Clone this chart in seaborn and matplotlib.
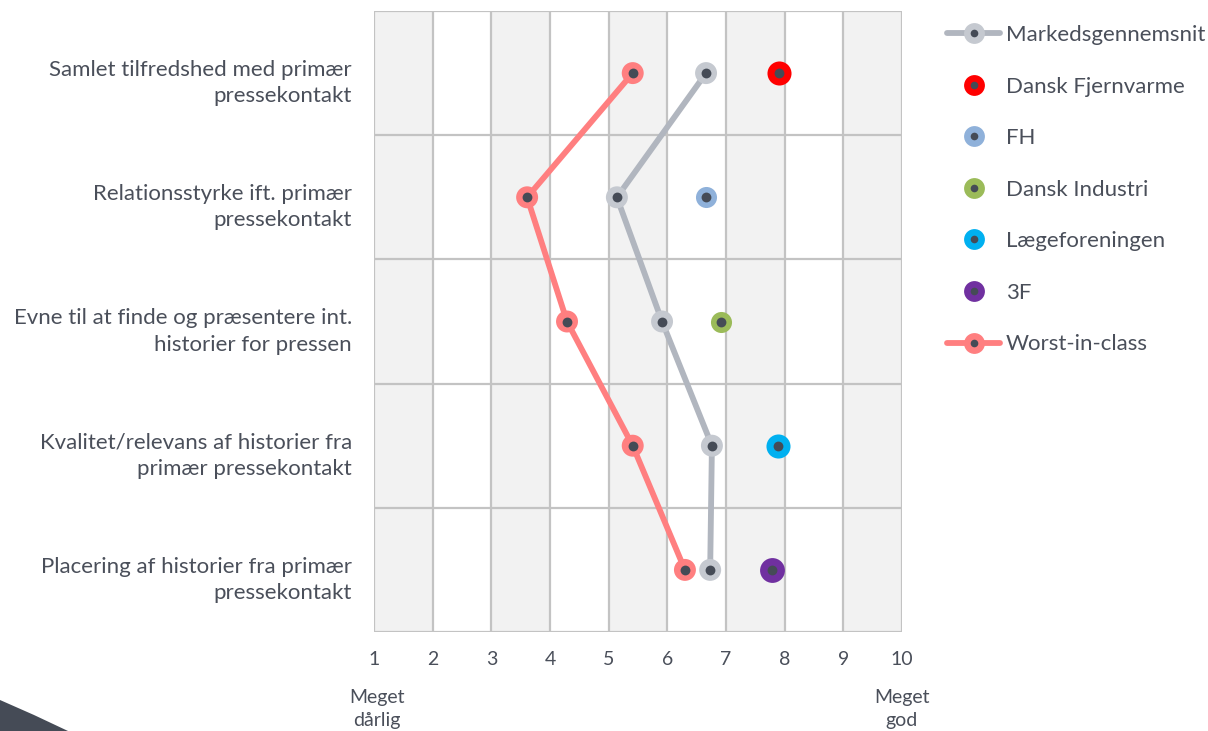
import matplotlib
matplotlib.use("Agg")
import matplotlib.pyplot as plt
import matplotlib.transforms as mtransforms
import seaborn as sns
import pandas as pd
from matplotlib.lines import Line2D
from matplotlib.patches import Polygon

# ---------------- data ----------------
categories = [
    "Samlet tilfredshed med primær\npressekontakt",
    "Relationsstyrke ift. primær\npressekontakt",
    "Evne til at finde og præsentere int.\nhistorier for pressen",
    "Kvalitet/relevans af historier fra\nprimær pressekontakt",
    "Placering af historier fra primær\npressekontakt",
]
markedsgennemsnit = [6.66, 5.14, 5.91, 6.76, 6.73]
worst_in_class = [5.41, 3.61, 4.29, 5.41, 6.30]
org_names = ["Dansk Fjernvarme", "FH", "Dansk Industri", "Lægeforeningen", "3F"]
org_scores = [7.90, 6.66, 6.91, 7.89, 7.78]
org_rows = [0, 1, 2, 3, 4]
x_ticks = list(range(1, 11))
x_low_label = "Meget\ndårlig"
x_high_label = "Meget\ngod"

# ---------------- styles ----------------
line_colors = {"Markedsgennemsnit": "#b1b6bf", "Worst-in-class": "#ff7f80"}
marker_colors = {"Markedsgennemsnit": "#c5c9d0", "Worst-in-class": "#ff7f80"}
org_colors = {"Dansk Fjernvarme": "#ff0000", "FH": "#8fb1da", "Dansk Industri": "#9bbb59",
              "Lægeforeningen": "#00b0f0", "3F": "#7030a0"}
dot_color = "#454b56"
text_color = "#4a4f5a"
grid_color = "#c3c3c3"

sns.set_theme(style="white")
plt.rcParams["font.family"] = ["Lato", "DejaVu Sans"]

W, H = 1208, 731
fig = plt.figure(figsize=(W / 100, H / 100), dpi=100)
ax = fig.add_axes([374 / W, 1 - 632 / H, (902 - 374) / W, (632 - 11) / H])
ax.set_facecolor("white")

ax.set_xlim(1, 10)
ax.set_ylim(len(categories) - 0.5, -0.5)

# alternating column shading
for i, v in enumerate(x_ticks[:-1]):
    if i % 2 == 0:
        ax.axvspan(v, v + 1, facecolor="#f2f2f2", edgecolor="none", zorder=0)

rows = list(range(len(categories)))
df_lines = pd.DataFrame({
    "score": markedsgennemsnit + worst_in_class,
    "pos": rows + rows,
    "serie": ["Markedsgennemsnit"] * len(rows) + ["Worst-in-class"] * len(rows),
})
df_orgs = pd.DataFrame({"score": org_scores, "pos": org_rows, "serie": org_names})

sns.lineplot(data=df_lines, x="score", y="pos", hue="serie", palette=line_colors,
             orient="y", sort=False, estimator=None, linewidth=4.2, legend=False,
             ax=ax, zorder=3)
sns.scatterplot(data=df_lines, x="score", y="pos", hue="serie", palette=marker_colors,
                s=250, linewidth=0, legend=False, ax=ax, zorder=4)
org_sizes = {"Dansk Fjernvarme": 300, "FH": 230, "Dansk Industri": 230,
             "Lægeforeningen": 300, "3F": 320}
for name in org_names:
    sub = df_orgs[df_orgs["serie"] == name]
    sns.scatterplot(data=sub, x="score", y="pos", color=org_colors[name],
                    s=org_sizes[name], linewidth=0, legend=False, ax=ax, zorder=4)
df_all = pd.concat([df_lines, df_orgs])
sns.scatterplot(data=df_all, x="score", y="pos", color=dot_color, s=50,
                linewidth=0, legend=False, ax=ax, zorder=5)

ax.set_xlim(1, 10)
ax.set_ylim(len(categories) - 0.5, -0.5)
ax.set_xticks(x_ticks)
ax.set_xticklabels([str(t) for t in x_ticks], fontsize=14, color=text_color)
ax.set_yticks(rows)
ax.set_yticklabels(categories, fontsize=16, color=text_color, linespacing=1.38,
                   ha="right")
ax.tick_params(axis="y", pad=16, length=0)
ax.tick_params(axis="x", pad=14, length=0)
ax.set_xlabel("")
ax.set_ylabel("")
for v in x_ticks:
    ax.axvline(v, color=grid_color, lw=1.6, zorder=1)
for r in range(len(categories) + 1):
    ax.axhline(r - 0.5, color=grid_color, lw=1.6, zorder=1)
for s in ax.spines.values():
    s.set_visible(False)
shift = mtransforms.ScaledTranslation(0, -5 / 100, fig.dpi_scale_trans)
for lbl in ax.get_yticklabels():
    lbl.set_transform(lbl.get_transform() + shift)

fig.text(377 / W, 1 - 709 / H, x_low_label, ha="center", va="center",
         fontsize=14, color=text_color, linespacing=1.38)
fig.text(902 / W, 1 - 709 / H, x_high_label, ha="center", va="center",
         fontsize=14, color=text_color, linespacing=1.38)

# legend
handles, labels = [], []
def entry(color, mcolor, with_line, size):
    big = Line2D([0], [0], color=color if with_line else "none", lw=4.2,
                 marker="o", markersize=size, markerfacecolor=mcolor,
                 markeredgewidth=0)
    small = Line2D([0], [0], color="none", marker="o", markersize=5.5,
                   markerfacecolor=dot_color, markeredgewidth=0)
    return (big, small)

handles.append(entry(line_colors["Markedsgennemsnit"], marker_colors["Markedsgennemsnit"], True, 15))
labels.append("Markedsgennemsnit")
for name in org_names:
    handles.append(entry(org_colors[name], org_colors[name], False, 15))
    labels.append(name)
handles.append(entry(line_colors["Worst-in-class"], marker_colors["Worst-in-class"], True, 15))
labels.append("Worst-in-class")

leg = fig.legend(handles, labels, loc="upper left", bbox_to_anchor=(947 / W, 1 - 25 / H),
                 frameon=False, fontsize=16, handlelength=2.4, handletextpad=0.25,
                 labelspacing=1.42, borderpad=0, borderaxespad=0)
for t in leg.get_texts():
    t.set_color(text_color)

pts = [(0, 700), (34, 715), (68, 731), (0, 731)]
fig.add_artist(Polygon([(x / W, 1 - y / H) for x, y in pts], closed=True,
                       transform=fig.transFigure, color="#454b56", lw=0))

fig.savefig("out.png", dpi=100)
